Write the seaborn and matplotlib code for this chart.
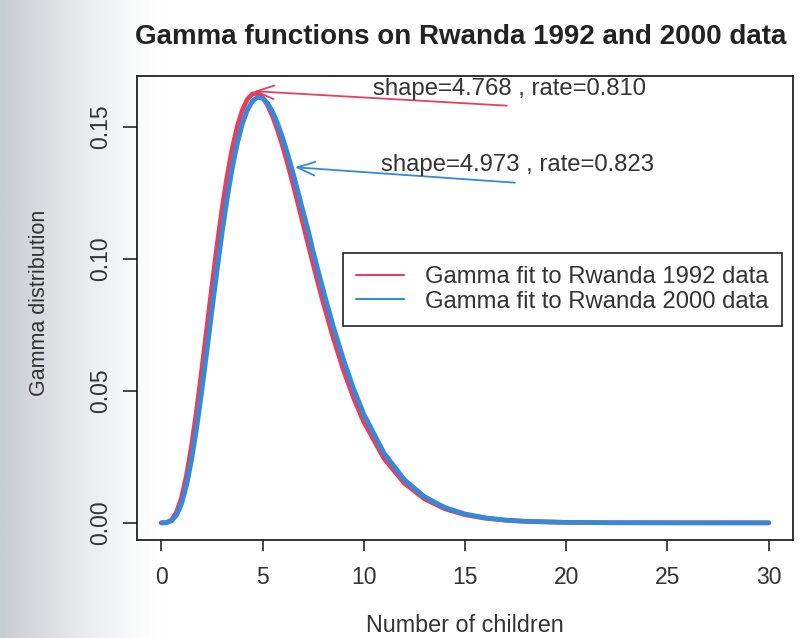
import numpy as np
import pandas as pd
import matplotlib
matplotlib.use('Agg')
import matplotlib.pyplot as plt
import seaborn as sns

# Значения
x_children = [0, 0.25, 0.5, 0.75, 1, 1.25, 1.5, 1.75, 2, 2.25, 2.5, 2.75, 3, 3.25,
              3.5, 3.75, 4, 4.25, 4.5, 4.75, 5, 5.25, 5.5, 5.75, 6, 6.25, 6.5,
              6.75, 7, 7.25, 7.5, 7.75, 8, 8.5, 9, 9.5, 10, 11, 12, 13, 14, 15,
              16, 17, 18, 20, 22, 25, 30]
gamma_1992 = [0, 0.00009, 0.00105, 0.00396, 0.00957, 0.01811, 0.02940, 0.04293,
              0.05798, 0.07381, 0.08965, 0.10485, 0.11886, 0.13124, 0.14171,
              0.15010, 0.15633, 0.16043, 0.16251, 0.16271, 0.16122, 0.15823,
              0.15398, 0.14869, 0.14256, 0.13578, 0.12855, 0.12103, 0.11336,
              0.10566, 0.09806, 0.09061, 0.08340, 0.06991, 0.05783, 0.04729,
              0.03826, 0.02438, 0.01505, 0.00905, 0.00533, 0.00307, 0.00174,
              0.00097, 0.00054, 0.00016, 0.00005, 0.00001, 0.0]
gamma_2000 = [0, 0.00005, 0.00070, 0.00283, 0.00723, 0.01429, 0.02400, 0.03604,
              0.04987, 0.06482, 0.08020, 0.09533, 0.10966, 0.12268, 0.13405,
              0.14355, 0.15101, 0.15639, 0.15977, 0.16122, 0.16091, 0.15901,
              0.15572, 0.15124, 0.14580, 0.13958, 0.13279, 0.12557, 0.11812,
              0.11107, 0.10295, 0.09546, 0.08816, 0.07433, 0.06182, 0.05078,
              0.04125, 0.02645, 0.01641, 0.00991, 0.00584, 0.00337, 0.00191,
              0.00107, 0.00059, 0.00017, 0.00005, 0.00001, 0.0]
labels = ['Gamma fit to Rwanda 1992 data', 'Gamma fit to Rwanda 2000 data']
notes = ['shape=4.768 , rate=0.810', 'shape=4.973 , rate=0.823']
x_ticks = [0, 5, 10, 15, 20, 25, 30]
y_ticks = [0.00, 0.05, 0.10, 0.15]

red = '#e5405e'
blue = '#3489d8'

df = pd.DataFrame({
    'x': x_children * 2,
    'y': gamma_1992 + gamma_2000,
    'series': [labels[0]] * len(x_children) + [labels[1]] * len(x_children),
})

sns.set_style('white')
plt.rcParams['font.family'] = ['Liberation Sans', 'DejaVu Sans']

fig = plt.figure(figsize=(8.11, 6.38), dpi=100)

# серый край от сканера слева
bg = fig.add_axes([0, 0, 1, 1], zorder=-5)
grad = np.linspace(0, 1, 400)
shade = np.clip(1 - grad / 0.2, 0, 1) ** 1.3
img = np.ones((2, 400, 3))
for c, base in enumerate([0.78, 0.80, 0.82]):
    img[:, :, c] = 1 - (1 - base) * shade
bg.imshow(img, aspect='auto', extent=[0, 1, 0, 1])
bg.axis('off')

ax = fig.add_axes([0.1689, 0.1536, 0.8089, 0.7273])
ax.set_facecolor('none')

sns.lineplot(data=df, x='x', y='y', hue='series', palette=[red, blue],
             linewidth=3.4, ax=ax, legend=False)

ax.set_xlim(-1.2, 31.2)
ax.set_ylim(-0.0065, 0.1693)
ax.set_xticks(x_ticks)
ax.set_yticks(y_ticks)
ax.set_xticklabels([str(t) for t in x_ticks], fontsize=16.5, color='#333333')
ax.set_yticklabels(['%.2f' % t for t in y_ticks], fontsize=16.5, color='#333333',
                   rotation=90, va='center')
ax.tick_params(axis='x', direction='out', length=8, width=1.2, pad=11, bottom=True)
ax.tick_params(axis='y', direction='out', length=10, width=1.2, pad=8, left=True)
for s in ax.spines.values():
    s.set_color('#222222')
    s.set_linewidth(1.3)

ax.set_xlabel('Number of children', fontsize=16.8, color='#333333', labelpad=18)
ax.set_ylabel('')
fig.text(0.049, 0.525, 'Gamma distribution', rotation=90, fontsize=15.5,
         color='#333333', ha='center', va='center')
fig.text(0.568, 0.942, 'Gamma functions on Rwanda 1992 and 2000 data',
         fontsize=20, fontweight='bold', color='#222222', ha='center', va='center')

# подписи параметров со стрелками
ax.annotate('', xy=(4.44, 0.1636), xytext=(17.2, 0.158),
            arrowprops=dict(arrowstyle='->,head_length=0.9,head_width=0.35',
                            color=red, lw=1.3, mutation_scale=14))
ax.text(17.2, 0.1645, notes[0], fontsize=17.2, color='#333333', ha='center', va='center')
ax.annotate('', xy=(6.46, 0.1348), xytext=(17.6, 0.1288),
            arrowprops=dict(arrowstyle='->,head_length=0.9,head_width=0.35',
                            color=blue, lw=1.3, mutation_scale=14))
ax.text(17.6, 0.1357, notes[1], fontsize=17.2, color='#333333', ha='center', va='center')

handles = [plt.Line2D([], [], color=red, lw=1.5), plt.Line2D([], [], color=blue, lw=1.5)]
leg = ax.legend(handles, labels, loc='upper left', bbox_to_anchor=(0.314, 0.6185),
                fontsize=17.2, frameon=True, fancybox=False, framealpha=1,
                edgecolor='#222222', handlelength=2.0, handletextpad=0.9,
                labelspacing=0.1, borderpad=0.55, borderaxespad=0)
leg.get_frame().set_linewidth(1.2)
for t in leg.get_texts():
    t.set_color('#333333')

fig.savefig('out.png', dpi=100)
